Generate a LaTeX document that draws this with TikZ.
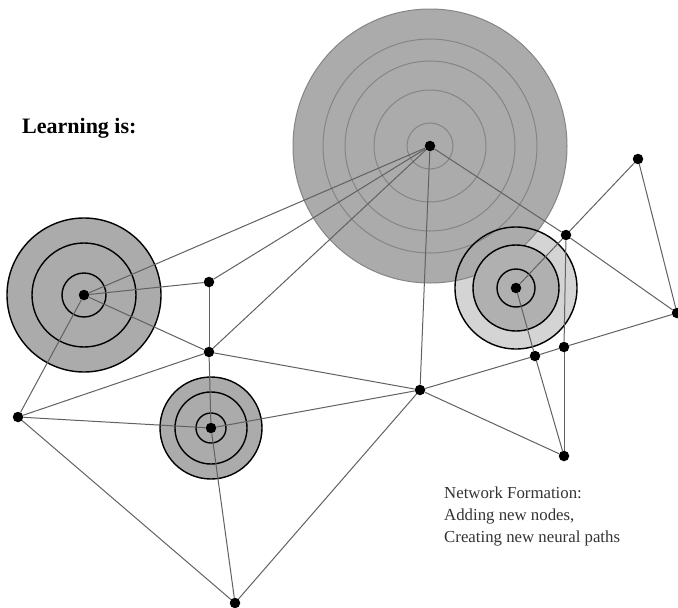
\documentclass[tikz,border=0pt]{standalone}
\usepackage{fontspec}
\setmainfont{Liberation Serif}
\usetikzlibrary{backgrounds}

\begin{document}
\begin{tikzpicture}[x=1pt, y=-1pt,
  dot/.style={circle, fill=black, inner sep=0pt, minimum size=10.5pt},
  link/.style={draw=black!62, line width=1pt},
  faint ring/.style={draw=black!48, line width=1pt},
  dark ring/.style={draw=black, line width=1.4pt}]
  \useasboundingbox (0,0) rectangle (678,608);

  % Define nodes
  \node[dot] (a) at (430,146) {};
  \node[dot] (b) at (84,295) {};
  \node[dot] (c) at (211,428) {};
  \node[dot] (d) at (516,288) {};
  \node[dot] (e) at (209,282) {};
  \node[dot] (f) at (209,352) {};
  \node[dot] (g) at (18,417) {};
  \node[dot] (h) at (235,603) {};
  \node[dot] (i) at (420,390) {};
  \node[dot] (j) at (638,159) {};
  \node[dot] (k) at (566,235) {};
  \node[dot] (l) at (677,313) {};
  \node[dot] (m) at (564,347) {};
  \node[dot] (n) at (535,356) {};
  \node[dot] (o) at (564,456) {};

  % Texts
  \node[anchor=base west, inner sep=0pt, font=\bfseries\fontsize{22}{26}\selectfont] (title) at (22,133) {Learning is:};
  \node[anchor=north west, inner sep=0pt, align=left, text=black!80, font=\fontsize{16.8}{22}\selectfont] (caption) at (444,487) {Network Formation:\\Adding new nodes,\\Creating new neural paths};

  % Discs and rings behind the network
  \begin{scope}[on background layer]
    \fill[black!17] (d) circle (61pt);
    \fill[black!33] (a) circle (137pt);
    \foreach \r in {23,56,85,107,137}
      \draw[faint ring] (a) circle (\r pt);
    \fill[black!31] (d) circle (43pt);
    \foreach \r in {19,43,61}
      \draw[dark ring] (d) circle (\r pt);
    \fill[black!33] (b) circle (77pt);
    \foreach \r in {22,52,77}
      \draw[dark ring] (b) circle (\r pt);
    \fill[black!33] (c) circle (51pt);
    \foreach \r in {15,36,51}
      \draw[dark ring] (c) circle (\r pt);
  \end{scope}

  % Define edges
  \path[link]
    (a) edge (b)
    (a) edge (e)
    (a) edge (f)
    (a) edge (i)
    (a) edge (k)
    (k) edge (l)
    (b) edge (e)
    (b) edge (f)
    (b) edge (g)
    (e) edge (f)
    (f) edge (c)
    (f) edge (g)
    (f) edge (i)
    (g) edge (c)
    (g) edge (h)
    (c) edge (i)
    (c) edge (h)
    (i) edge (h)
    (i) edge (n)
    (n) edge (m)
    (m) edge (l)
    (i) edge (o)
    (d) edge (k)
    (k) edge (j)
    (d) edge (n)
    (n) edge (o)
    (k) edge (m)
    (m) edge (o)
    (j) edge (l);
\end{tikzpicture}
\end{document}
